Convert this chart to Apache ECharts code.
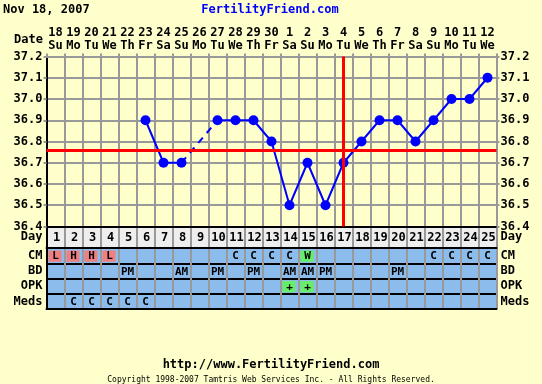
<!DOCTYPE html>
<html><head><meta charset="utf-8">
<script src="https://cdn.jsdelivr.net/npm/echarts@6/dist/echarts.min.js"></script>
<style>html,body{margin:0;padding:0;background:#FFFFCC;}#c{width:542px;height:384px;}</style>
</head><body><div id="c"></div>
<script>
// ---- data ----
const dates = [18,19,20,21,22,23,24,25,26,27,28,29,30,1,2,3,4,5,6,7,8,9,10,11,12];
const dows = ['Su','Mo','Tu','We','Th','Fr','Sa','Su','Mo','Tu','We','Th','Fr','Sa','Su','Mo','Tu','We','Th','Fr','Sa','Su','Mo','Tu','We'];
const cycleDays = [1,2,3,4,5,6,7,8,9,10,11,12,13,14,15,16,17,18,19,20,21,22,23,24,25];
const temps = [null,null,null,null,null,36.9,36.7,36.7,null,36.9,36.9,36.9,36.8,36.5,36.7,36.5,36.7,36.8,36.9,36.9,36.8,36.9,37.0,37.0,37.1];
const tempTicks = [36.4,36.5,36.6,36.7,36.8,36.9,37.0,37.1,37.2];
const coverLine = 36.76;
const ovulationDay = 17;
const rowNames = ['CM','BD','OPK','Meds'];
const cmVals   = ['L','H','H','L','','','','','','','C','C','C','C','W','','','','','','','C','C','C','C'];
const bdVals   = ['','','','','PM','','','AM','','PM','','PM','','AM','AM','PM','','','','PM','','','','',''];
const opkVals  = ['','','','','','','','','','','','','','+','+','','','','','','','','','',''];
const medsVals = ['','C','C','C','C','C','','','','','','','','','','','','','','','','','','',''];
const chartDate = 'Nov 18, 2007';

// ---- styles ----
const FONT = '"DejaVu Sans Mono", monospace';
const BG = '#FFFFCC', GRIDC = '#999999', BLUECELL = '#8CBCEC', PINK = '#F08080', GREEN = '#66EE66';
const fillFor = v => (v === 'L' || v === 'H') ? PINK : (v === 'W' || v === '+') ? GREEN : null;

const cats = cycleDays.map(String);
const rows = [cmVals, bdVals, opkVals, medsVals];
const cellData = [], cellText = [];
rows.forEach((r, ri) => r.forEach((v, ci) => { if (v) { cellData.push([ci, ri]); cellText.push(v); } }));

// dashed gap segments
const gapSeries = [];
for (let i = 1; i < temps.length - 1; i++) {
  if (temps[i] === null) {
    let a = i - 1, b = i;
    while (b < temps.length && temps[b] === null) b++;
    if (temps[a] !== null && b < temps.length && a >= 0) {
      const arr = temps.map(() => null);
      arr[a] = temps[a]; arr[b] = temps[b];
      gapSeries.push(arr);
    }
    i = b;
  }
}

const chart = echarts.init(document.getElementById('c'), null, {renderer: 'canvas'});
const L = 46.5, W = 450;
const lab = {margin: 4, interval: 0, fontFamily: FONT, fontWeight: 'bold', fontSize: 12, color: '#000'};
const option = {
  backgroundColor: BG,
  animation: false,
  graphic: [
    {type: 'text', left: 3, top: 4, style: {text: chartDate, font: 'bold 12px ' + FONT, fill: '#000'}},
    {type: 'text', x: 270, y: 10, style: {text: 'FertilityFriend.com', font: 'bold 12px ' + FONT, fill: '#0000FF', align: 'center', verticalAlign: 'middle'}},
    {type: 'text', x: 43, y: 39.5, style: {text: 'Date', font: 'bold 12px ' + FONT, fill: '#000', align: 'right', verticalAlign: 'middle'}},
    {type: 'text', x: 271, y: 365, style: {text: 'http://www.FertilityFriend.com', font: 'bold 12px ' + FONT, fill: '#000', align: 'center', verticalAlign: 'middle'}},
    {type: 'text', x: 271, y: 380, style: {text: 'Copyright 1998-2007 Tamtris Web Services Inc. - All Rights Reserved.', font: '8px ' + FONT, fill: '#000', align: 'center', verticalAlign: 'middle'}}
  ],
  grid: [
    {left: L, width: W, top: 56.5, height: 170, show: true, backgroundColor: BG, borderWidth: 0},
    {left: L, width: W, top: 226.5, height: 21.5, show: true, backgroundColor: '#EEEEEE', borderWidth: 0},
    {left: L, width: W, top: 248, height: 61, show: true, backgroundColor: BLUECELL, borderWidth: 0}
  ],
  xAxis: [
    {gridIndex: 0, type: 'category', data: cats, position: 'top', boundaryGap: true,
     axisLine: {lineStyle: {color: GRIDC, width: 2}},
     axisTick: {show: true, length: 3, interval: 0, lineStyle: {color: GRIDC, width: 2}},
     splitLine: {show: true, interval: 0, lineStyle: {color: GRIDC, width: 2}},
     axisLabel: Object.assign({}, lab, {lineHeight: 13, formatter: (v, i) => dates[i] + '\n' + dows[i]})},
    {gridIndex: 0, type: 'category', data: cats, position: 'bottom', boundaryGap: true,
     axisLine: {lineStyle: {color: '#000', width: 2}}, axisTick: {show: false}, axisLabel: {show: false}},
    {gridIndex: 1, type: 'category', data: cats, position: 'bottom', boundaryGap: true,
     axisLine: {lineStyle: {color: '#000', width: 2}}, axisTick: {show: false}, axisLabel: {show: false},
     splitLine: {show: true, interval: 0, lineStyle: {color: GRIDC, width: 2}}},
    {gridIndex: 2, type: 'category', data: cats, position: 'bottom', boundaryGap: true,
     axisLine: {lineStyle: {color: '#000', width: 2}}, axisTick: {show: false}, axisLabel: {show: false},
     splitLine: {show: true, interval: 0, lineStyle: {color: GRIDC, width: 2}}}
  ],
  yAxis: [
    {gridIndex: 0, type: 'value', min: tempTicks[0], max: tempTicks[tempTicks.length - 1], interval: 0.1, position: 'left',
     axisLine: {show: true, lineStyle: {color: '#000', width: 2}},
     axisTick: {show: true, length: 3, lineStyle: {color: GRIDC, width: 2}},
     splitLine: {show: true, lineStyle: {color: GRIDC, width: 2}},
     axisLabel: Object.assign({}, lab, {formatter: v => v.toFixed(1)})},
    {gridIndex: 0, type: 'value', min: tempTicks[0], max: tempTicks[tempTicks.length - 1], interval: 0.1, position: 'right',
     axisLine: {show: true, lineStyle: {color: GRIDC, width: 2}},
     axisTick: {show: true, length: 3, lineStyle: {color: GRIDC, width: 2}},
     splitLine: {show: false},
     axisLabel: Object.assign({}, lab, {formatter: v => v.toFixed(1)})},
    {gridIndex: 1, type: 'category', data: ['Day'], position: 'left',
     axisLine: {show: true, lineStyle: {color: '#000', width: 2}}, axisTick: {show: false}, axisLabel: lab},
    {gridIndex: 1, type: 'category', data: ['Day'], position: 'right',
     axisLine: {show: false}, axisTick: {show: false}, axisLabel: lab},
    {gridIndex: 2, type: 'category', data: rowNames, inverse: true, position: 'left',
     axisLine: {show: true, lineStyle: {color: '#000', width: 2}}, axisTick: {show: false},
     splitLine: {show: true, interval: 0, lineStyle: {color: '#000', width: 2}}, axisLabel: lab},
    {gridIndex: 2, type: 'category', data: rowNames, inverse: true, position: 'right',
     axisLine: {show: false}, axisTick: {show: false}, axisLabel: lab}
  ],
  series: [
    ...gapSeries.map(g => ({type: 'line', xAxisIndex: 0, yAxisIndex: 0, data: g, connectNulls: true, showSymbol: false, symbol: 'none',
      lineStyle: {color: '#0000FF', width: 2, type: [7, 6]}, z: 3, silent: true})),
    {type: 'line', xAxisIndex: 0, yAxisIndex: 0, data: temps, connectNulls: false,
     symbol: 'circle', symbolSize: 10, itemStyle: {color: '#0000FF'}, lineStyle: {color: '#0000FF', width: 2}, z: 4},
    {type: 'line', xAxisIndex: 0, yAxisIndex: 0, data: [], z: 6, silent: true,
     markLine: {silent: true, symbol: 'none', label: {show: false}, animation: false,
       lineStyle: {color: '#FF0000', width: 3, type: 'solid'},
       data: [{yAxis: coverLine}, {xAxis: String(ovulationDay)}]}},
    {type: 'custom', xAxisIndex: 2, yAxisIndex: 2, data: cycleDays.map((d, i) => [i, 0]),
     renderItem: (p, api) => {
       const c = api.coord([api.value(0), api.value(1)]);
       return {type: 'text', style: {text: String(cycleDays[p.dataIndex]), x: c[0] + 1, y: c[1] + 1, align: 'center', verticalAlign: 'middle', font: 'bold 12px ' + FONT, fill: '#000'}};
     }},
    {type: 'custom', xAxisIndex: 3, yAxisIndex: 4, data: cellData, z: 5,
     renderItem: (p, api) => {
       const c = api.coord([api.value(0), api.value(1)]);
       const s = api.size([1, 1]);
       const t = cellText[p.dataIndex];
       const f = fillFor(t);
       const ch = [];
       if (f) ch.push({type: 'rect', shape: {x: c[0] - s[0] / 2 + 2, y: c[1] - s[1] / 2 + 2.5, width: s[0] - 5, height: s[1] - 4}, style: {fill: f}});
       ch.push({type: 'text', style: {text: t, x: c[0], y: c[1] + 1, align: 'center', verticalAlign: 'middle', font: 'bold 11px ' + FONT, fill: '#000'}});
       return {type: 'group', children: ch};
     }}
  ]
};
chart.setOption(option);
</script>
</body></html>
